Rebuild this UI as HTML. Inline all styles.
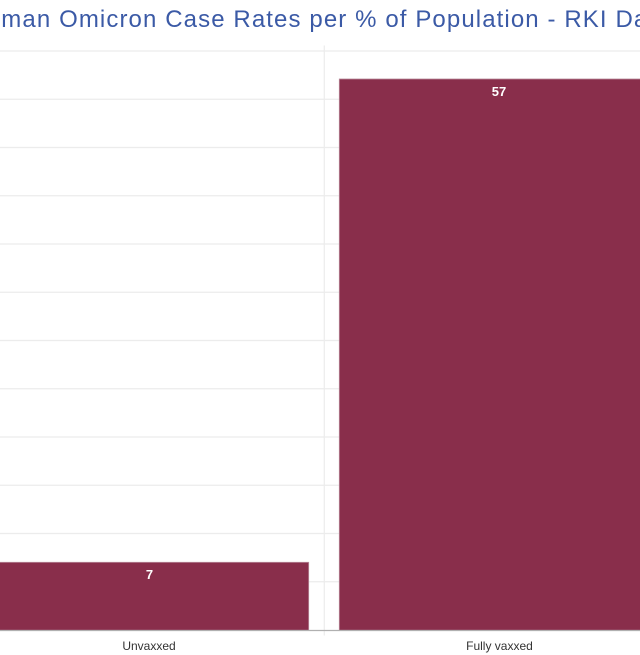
<!DOCTYPE html>
<html>
<head>
<meta charset="utf-8">
<style>
  html, body { margin:0; padding:0; background:#fff; }
  body { width:640px; height:655px; overflow:hidden; position:relative; }
  .clip { position:absolute; left:0; top:0; width:640px; height:655px; overflow:hidden; }
  .title {
    position:absolute; left:-42px; top:5px;
    font-family:"Liberation Sans", sans-serif; font-size:24px; letter-spacing:1.1px;
    color:#3b5aa6; white-space:nowrap; line-height:30px;
  }
  svg { position:absolute; left:0; top:0; }
</style>
</head>
<body>
<div class="clip">
<svg width="640" height="655" viewBox="0 0 640 655" xmlns="http://www.w3.org/2000/svg">
  <g stroke="#ececec" stroke-width="1.2">
    <line x1="0" x2="640" y1="51" y2="51"/>
    <line x1="0" x2="640" y1="99.25" y2="99.25"/>
    <line x1="0" x2="640" y1="147.5" y2="147.5"/>
    <line x1="0" x2="640" y1="195.75" y2="195.75"/>
    <line x1="0" x2="640" y1="244" y2="244"/>
    <line x1="0" x2="640" y1="292.25" y2="292.25"/>
    <line x1="0" x2="640" y1="340.5" y2="340.5"/>
    <line x1="0" x2="640" y1="388.75" y2="388.75"/>
    <line x1="0" x2="640" y1="437" y2="437"/>
    <line x1="0" x2="640" y1="485.25" y2="485.25"/>
    <line x1="0" x2="640" y1="533.5" y2="533.5"/>
    <line x1="0" x2="640" y1="581.75" y2="581.75"/>
    <line x1="324.3" x2="324.3" y1="45.5" y2="635.5"/>
  </g>
  <rect x="-12" y="562.3" width="320.7" height="68" fill="#892e4b" stroke="#b9899a" stroke-width="0.8"/>
  <rect x="339.3" y="79" width="320" height="551.3" fill="#892e4b" stroke="#b9899a" stroke-width="0.8"/>
  <line x1="0" x2="640" y1="630.5" y2="630.5" stroke="#b0b0b0" stroke-width="1.2"/>
  <g font-family="Liberation Sans, sans-serif" font-weight="bold" font-size="13" fill="#ffffff" text-anchor="middle">
    <text x="149.5" y="579">7</text>
    <text x="499" y="96">57</text>
  </g>
  <g font-family="Liberation Sans, sans-serif" font-size="12" fill="#333333" text-anchor="middle">
    <text x="149" y="650">Unvaxxed</text>
    <text x="499.5" y="650">Fully vaxxed</text>
  </g>
</svg>
<div class="title">German Omicron Case Rates per % of Population - RKI Data</div>
</div>
</body>
</html>
